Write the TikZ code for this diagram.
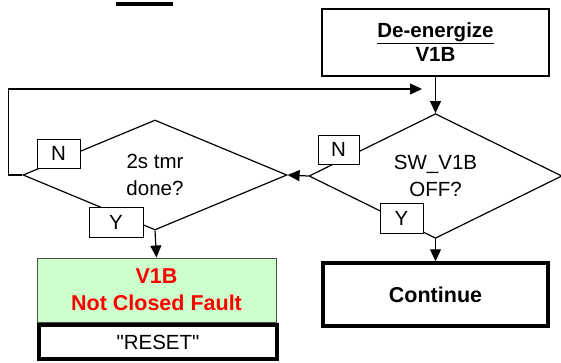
\documentclass[tikz,border=0pt]{standalone}
\usepackage{fontspec}
\setmainfont{Liberation Sans}[Ligatures=TeXOff]
\usetikzlibrary{shapes.geometric,arrows.meta}
\definecolor{faultgreen}{HTML}{CCFFCC}
\begin{document}
\begin{tikzpicture}[x=1pt,y=-1pt,
        font=\fontsize{20.5}{27}\selectfont,
        box/.style={draw,line width=1.2pt,align=center,inner sep=0pt},
        dia/.style={draw,diamond,line width=1.2pt,inner sep=0pt,align=center,
                    minimum width=#1,minimum height=110pt},
        lab/.style={draw,fill=white,line width=1pt,inner sep=0pt,minimum height=29pt},
        arr/.style={line width=1.2pt,-{Triangle[length=12pt,width=11pt]}}]
            \useasboundingbox (0,0) rectangle (561,362);
            \draw[line width=3.5pt] (116,4) -- (173,4);
            \node[box,minimum width=227pt,minimum height=67pt] (deen) at (435.5,42.5)
                {\textbf{\underline{De-energize}}\\[-3pt]\textbf{V1B}};
            \node[dia=264pt] (tmr) at (155,175) {2s tmr\\done?};
            \node[dia=253pt] (sw) at (435.5,176) {SW\_V1B\\OFF?};
            \node[box,line width=1pt,draw=black!70,fill=faultgreen,text=red,
                  font=\fontsize{21.5}{27}\selectfont\bfseries,
                  minimum width=239pt,minimum height=64pt] (fault) at (156.5,290)
                {V1B\\Not Closed Fault};
            \node[box,line width=4pt,minimum width=238pt,minimum height=34pt] (reset) at (158,342)
                {"RESET"};
            \node[box,line width=3.5pt,font=\fontsize{21.5}{27}\selectfont\bfseries,
                  minimum width=225pt,minimum height=63pt] (cont) at (435.5,294.5)
                {Continue};
            \coordinate (loopend) at (422,89);
            \draw[arr] (deen.south) -- (sw.north);
            \draw[arr] (sw.west) -- (tmr.east);
            \draw[arr] (sw.south) -- (cont.north);
            \draw[arr] (tmr.south) -- (fault.north);
            \draw[arr] (tmr.west) -- ++(-14,0) |- (loopend);
            \node[lab,minimum width=43pt] (tmrn) at (58.5,153.5) {N};
            \node[lab,minimum width=41pt] (swn) at (338.5,149.5) {N};
            \node[lab,minimum width=54pt,minimum height=30pt] (tmry) at (116,222) {Y};
            \node[lab,minimum width=43pt,minimum height=30pt] (swy) at (401.5,218) {Y};
        \end{tikzpicture}
\end{document}
